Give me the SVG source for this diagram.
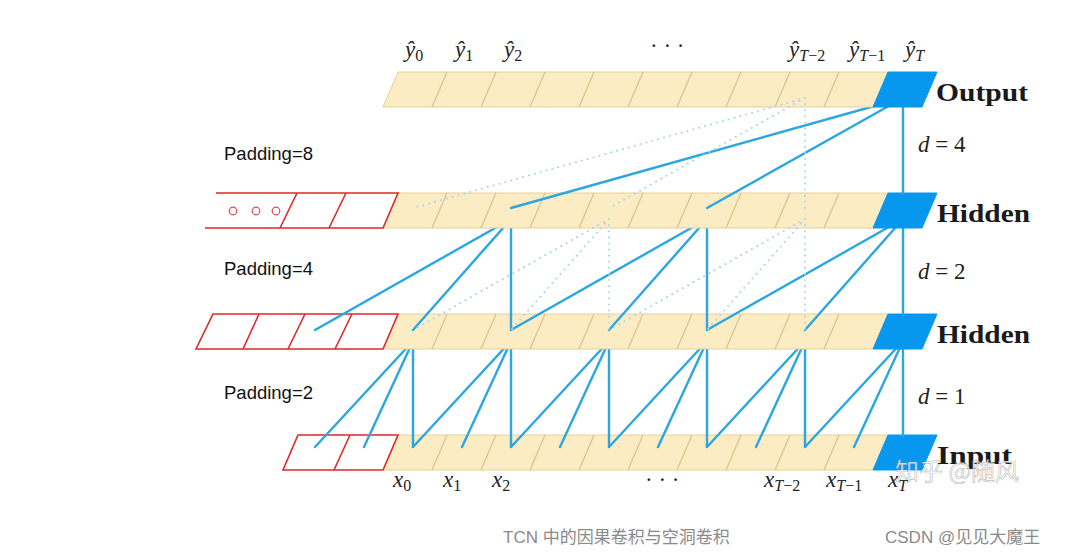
<svg xmlns="http://www.w3.org/2000/svg" width="1071" height="555" viewBox="0 0 1071 555">
<style>
.bg{fill:#fbecc3;stroke:#e6cf98;stroke-width:1}
.div{fill:none;stroke:#dcc288;stroke-width:1.2}
.blue{fill:#0797ef;stroke:#0797ef;stroke-width:1}
.pad{fill:#fff;stroke:#e02828;stroke-width:1.6;stroke-linejoin:miter}
.padl{fill:none;stroke:#e02828;stroke-width:1.6}
.con{fill:none;stroke:#2aa6e2;stroke-width:2.4;stroke-linecap:round}
.dot{fill:none;stroke:#a9d6ef;stroke-width:2;stroke-dasharray:0.1 6;stroke-linecap:round}
.m{font-family:"Liberation Serif",serif;font-size:23px;font-style:italic;fill:#222}
.s{font-size:16px;font-style:normal}
.si{font-size:16px;font-style:italic}
.lab{font-family:"Liberation Serif",serif;font-size:26px;font-weight:bold;fill:#1a1a1a}
.pd{font-family:"Liberation Sans",sans-serif;font-size:18.5px;fill:#111}
.dl{font-family:"Liberation Serif",serif;font-size:23px;fill:#222}
.cap{font-family:"Liberation Sans","Noto Sans CJK SC",sans-serif;font-size:17px;fill:#8a8a8a}
</style>

<!-- Input row -->
<g id="row-input">
<polygon class="bg" points="398,435 888,435 873,470 383,470"/>
<path class="div" d="M447,435 L432,470 M496,435 L481,470 M545,435 L530,470 M594,435 L579,470 M643,435 L628,470 M692,435 L677,470 M741,435 L726,470 M790,435 L775,470 M839,435 L824,470"/>
<polygon class="blue" points="888,435 937,435 922,470 873,470"/>
</g>
<g id="pad-input">
<polygon class="pad" points="298,435 398,435 383,470 283,470"/>
<path class="padl" d="M350,435 L334,470"/>
</g>

<g id="connectors-input-hidden2">
<path class="con" d="M413,447 L413,341 M364,447 L413,341 M315,447 L413,341 M511,447 L511,341 M462,447 L511,341 M413,447 L511,341 M609,447 L609,341 M560,447 L609,341 M511,447 L609,341 M707,447 L707,341 M658,447 L707,341 M609,447 L707,341 M805,447 L805,341 M756,447 L805,341 M707,447 L805,341 M903,436 L903,341 M854,447 L903,341 M805,447 L903,341"/>
</g>

<!-- Hidden row 2 -->
<g id="row-hidden2">
<polygon class="bg" points="398,314 888,314 873,349 383,349"/>
<path class="div" d="M447,314 L432,349 M496,314 L481,349 M545,314 L530,349 M594,314 L579,349 M643,314 L628,349 M692,314 L677,349 M741,314 L726,349 M790,314 L775,349 M839,314 L824,349"/>
<polygon class="blue" points="888,314 937,314 922,349 873,349"/>
</g>
<g id="pad-hidden2">
<polygon class="pad" points="213,314 398,314 383,349 196,349"/>
<path class="padl" d="M259,314 L243,349 M305,314 L288,349 M352,314 L335,349"/>
</g>

<g id="connectors-hidden2-hidden1">
<path class="con" d="M511,330 L511,219 M413,330 L511,219 M315,330 L511,219 M707,330 L707,219 M609,330 L707,219 M511,330 L707,219 M903,315 L903,219 M805,330 L903,219 M707,330 L903,219"/>
</g>

<!-- Hidden row 1 -->
<g id="row-hidden1">
<polygon class="bg" points="398,193 888,193 873,228 383,228"/>
<path class="div" d="M447,193 L432,228 M496,193 L481,228 M545,193 L530,228 M594,193 L579,228 M643,193 L628,228 M692,193 L677,228 M741,193 L726,228 M790,193 L775,228 M839,193 L824,228"/>
<polygon class="blue" points="888,193 937,193 922,228 873,228"/>
</g>
<g id="pad-hidden1">
<polygon points="216,193 398,193 383,228 205,228" fill="#fff"/>
<path class="padl" d="M216,193 L398,193 L383,228 L205,228 M297,193 L280,228 M346,193 L329,228"/>
<circle cx="233" cy="211" r="3.8" fill="none" stroke="#e04848" stroke-width="1.2"/>
<circle cx="256" cy="211" r="3.8" fill="none" stroke="#e04848" stroke-width="1.2"/>
<circle cx="276" cy="211" r="3.8" fill="none" stroke="#e04848" stroke-width="1.2"/>
</g>

<g id="connectors-hidden1-output">
<path class="con" d="M903,194 L903,98 M707,208 L903,98 M511,208 L903,98"/>
</g>

<!-- Output row -->
<g id="row-output">
<polygon class="bg" points="398,72 888,72 873,107 383,107"/>
<path class="div" d="M447,72 L432,107 M496,72 L481,107 M545,72 L530,107 M594,72 L579,107 M643,72 L628,107 M692,72 L677,107 M741,72 L726,107 M790,72 L775,107 M839,72 L824,107"/>
<polygon class="blue" points="888,72 937,72 922,107 873,107"/>
</g>

<g id="connectors-dotted">
<path class="dot" d="M805,98 L805,208 M805,98 L609,208 M805,98 L413,208 M609,219 L609,330 M609,219 L511,330 M609,219 L413,330 M805,219 L805,330 M805,219 L707,330 M805,219 L609,330"/>
</g>

<!-- top labels -->
<g id="labels-output">
<text class="m" x="405" y="57">ŷ<tspan class="s" dy="4">0</tspan></text>
<text class="m" x="455" y="57">ŷ<tspan class="s" dy="4">1</tspan></text>
<text class="m" x="504" y="57">ŷ<tspan class="s" dy="4">2</tspan></text>
<text class="dl" x="650" y="53">· · ·</text>
<text class="m" x="789" y="57">ŷ<tspan class="si" dy="4">T</tspan><tspan class="s">−2</tspan></text>
<text class="m" x="849" y="57">ŷ<tspan class="si" dy="4">T</tspan><tspan class="s">−1</tspan></text>
<text class="m" x="905" y="57">ŷ<tspan class="si" dy="4">T</tspan></text>
</g>

<g id="labels-input">
<text class="m" x="393" y="487">x<tspan class="s" dy="4">0</tspan></text>
<text class="m" x="443" y="487">x<tspan class="s" dy="4">1</tspan></text>
<text class="m" x="492" y="487">x<tspan class="s" dy="4">2</tspan></text>
<text class="dl" x="645" y="487">· · ·</text>
<text class="m" x="764" y="487">x<tspan class="si" dy="4">T</tspan><tspan class="s">−2</tspan></text>
<text class="m" x="826" y="487">x<tspan class="si" dy="4">T</tspan><tspan class="s">−1</tspan></text>
<text class="m" x="888" y="487">x<tspan class="si" dy="4">T</tspan></text>
</g>

<g id="labels-rows">
<text class="lab" x="936" y="101" textLength="92" lengthAdjust="spacingAndGlyphs">Output</text>
<text class="lab" x="937" y="222" textLength="93" lengthAdjust="spacingAndGlyphs">Hidden</text>
<text class="lab" x="937" y="343" textLength="93" lengthAdjust="spacingAndGlyphs">Hidden</text>
<text class="lab" x="937" y="464" textLength="75" lengthAdjust="spacingAndGlyphs">Input</text>
</g>

<g id="labels-d">
<text class="dl" x="918" y="152"><tspan font-style="italic">d</tspan> = 4</text>
<text class="dl" x="918" y="279"><tspan font-style="italic">d</tspan> = 2</text>
<text class="dl" x="918" y="404"><tspan font-style="italic">d</tspan> = 1</text>
</g>

<g id="labels-padding">
<text class="pd" x="224" y="160">Padding=8</text>
<text class="pd" x="224" y="275">Padding=4</text>
<text class="pd" x="224" y="399">Padding=2</text>
</g>

<text x="895" y="480" font-family="'Noto Sans CJK SC',sans-serif" font-size="24" fill="#ffffff" fill-opacity="0.8" stroke="#8a8a8a" stroke-opacity="0.55" stroke-width="0.7">知乎 @随风</text>

<text class="cap" x="503" y="543">TCN 中的因果卷积与空洞卷积</text>
<text class="cap" x="885" y="543" font-size="18" fill="#9a9a9a">CSDN @见见大魔王</text>
</svg>
